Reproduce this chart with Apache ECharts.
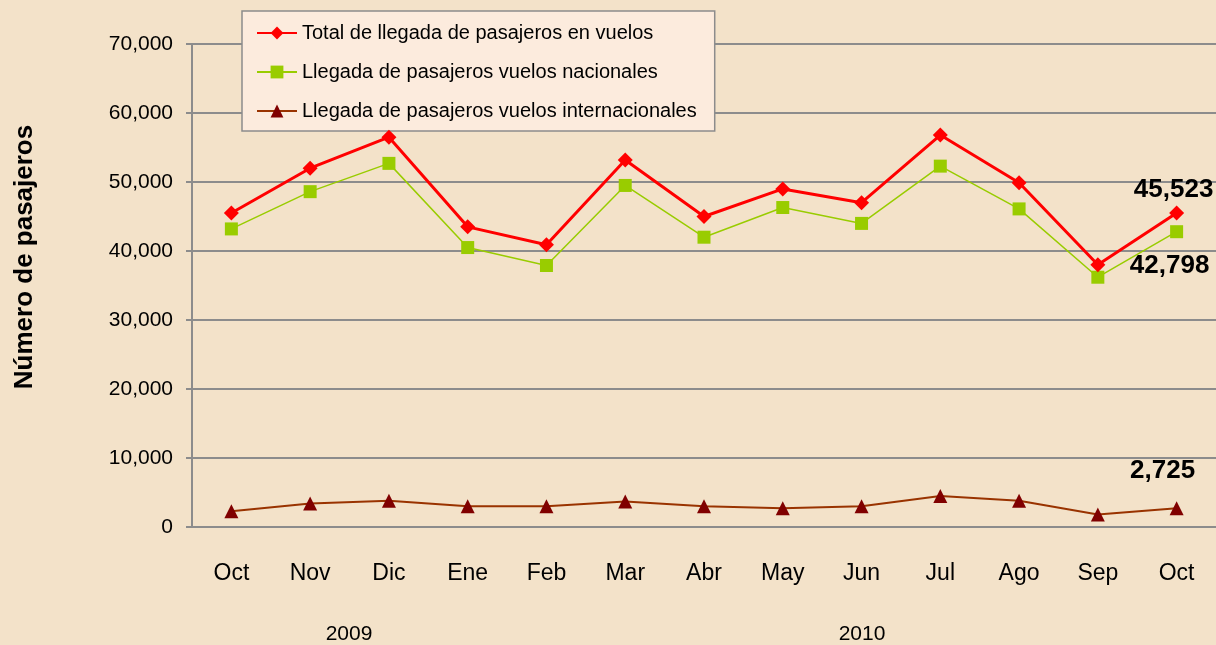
<!DOCTYPE html>
<html>
<head>
<meta charset="utf-8">
<script src="https://cdn.jsdelivr.net/npm/echarts@6/dist/echarts.min.js"></script>
<style>
	html, body { margin: 0; padding: 0; background: #F3E2C9; }
	#chart { width: 1216px; height: 645px; }
</style>
</head>
<body>
<div id="chart"></div>
<script>
	var meses = ['Oct', 'Nov', 'Dic', 'Ene', 'Feb', 'Mar', 'Abr', 'May', 'Jun', 'Jul', 'Ago', 'Sep', 'Oct'];
	var totalLlegadas = [45500, 52000, 56500, 43500, 40900, 53200, 45000, 49000, 47000, 56800, 49900, 38000, 45523];
	var nacionales = [43200, 48600, 52700, 40500, 37900, 49500, 42000, 46300, 44000, 52300, 46100, 36200, 42798];
	var internacionales = [2300, 3400, 3800, 3000, 3000, 3700, 3000, 2700, 3000, 4500, 3800, 1800, 2725];
	var anios = ['2009', '2010'];
	var tituloY = 'Número de pasajeros';

	var fuente = 'Liberation Sans, Arial, sans-serif';

	// solo el ultimo punto lleva etiqueta
	function conEtiqueta(arr, pos, dist, offX) {
		return arr.map(function(v, i) {
			if(i !== arr.length - 1) return v;
			return {
				value: v,
				label: {
					show: true,
					position: pos,
					distance: dist,
					offset: [offX, 0],
					formatter: function(p) { return p.value.toLocaleString('en-US'); },
					color: '#000',
					fontFamily: fuente,
					fontWeight: 'bold',
					fontSize: 26
				}
			};
		});
	}

	var Chart = echarts.init(document.getElementById('chart'));
	var option = {
		backgroundColor: '#F3E2C9',
		animation: false,
		grid: {
			left: 192,
			right: -3,
			top: 44,
			bottom: 118,
			containLabel: false
		},
		legend: {
			orient: 'vertical',
			left: 242,
			top: 11,
			padding: [12, 18, 10, 14],
			itemGap: 19,
			itemWidth: 40,
			itemHeight: 16,
			backgroundColor: '#FCEBDD',
			borderColor: '#8C8C8C',
			borderWidth: 1.5,
			textStyle: {
				fontFamily: fuente,
				fontSize: 20,
				color: '#000'
			},
			data: ['Total de llegada de pasajeros en vuelos', 'Llegada de pasajeros vuelos nacionales', 'Llegada de pasajeros vuelos internacionales']
		},
		xAxis: {
			type: 'category',
			data: meses,
			boundaryGap: true,
			axisLine: { lineStyle: { color: '#8C8C8C', width: 2 } },
			axisTick: { show: false },
			axisLabel: {
				margin: 35,
				fontFamily: fuente,
				fontSize: 23,
				color: '#000'
			}
		},
		yAxis: {
			type: 'value',
			min: 0,
			max: 70000,
			interval: 10000,
			axisLine: { show: true, lineStyle: { color: '#8C8C8C', width: 2 } },
			axisTick: { show: true, length: 6, lineStyle: { color: '#8C8C8C', width: 2 } },
			axisLabel: {
				margin: 19,
				fontFamily: fuente,
				fontSize: 21,
				color: '#000',
				formatter: function(v) { return v.toLocaleString('en-US'); }
			},
			splitLine: { lineStyle: { color: '#8C8C8C', width: 2 } }
		},
		graphic: [{
			type: 'text',
			x: 25,
			y: 257,
			rotation: Math.PI / 2,
			style: {
				text: tituloY,
				font: 'bold 26px ' + fuente,
				fill: '#000',
				align: 'center',
				verticalAlign: 'middle'
			}
		}, {
			type: 'text',
			x: 349,
			y: 634,
			style: { text: anios[0], font: '21px ' + fuente, fill: '#000', align: 'center', verticalAlign: 'middle' }
		}, {
			type: 'text',
			x: 862,
			y: 634,
			style: { text: anios[1], font: '21px ' + fuente, fill: '#000', align: 'center', verticalAlign: 'middle' }
		}],
		series: [{
			name: 'Total de llegada de pasajeros en vuelos',
			type: 'line',
			z: 4,
			data: conEtiqueta(totalLlegadas, 'top', 3, -3),
			symbol: 'diamond',
			symbolSize: 15,
			lineStyle: { color: '#FF0000', width: 3 },
			itemStyle: { color: '#FF0000' }
		}, {
			name: 'Llegada de pasajeros vuelos nacionales',
			type: 'line',
			z: 3,
			data: conEtiqueta(nacionales, 'bottom', 15, -7),
			symbol: 'rect',
			symbolSize: 13,
			lineStyle: { color: '#99CC00', width: 1.5 },
			itemStyle: { color: '#99CC00' }
		}, {
			name: 'Llegada de pasajeros vuelos internacionales',
			type: 'line',
			z: 2,
			data: conEtiqueta(internacionales, 'top', 17, -14),
			symbol: 'triangle',
			symbolSize: 14,
			lineStyle: { color: '#993300', width: 2 },
			itemStyle: { color: '#800000' }
		}]
	};
	Chart.setOption(option);
</script>
</body>
</html>
